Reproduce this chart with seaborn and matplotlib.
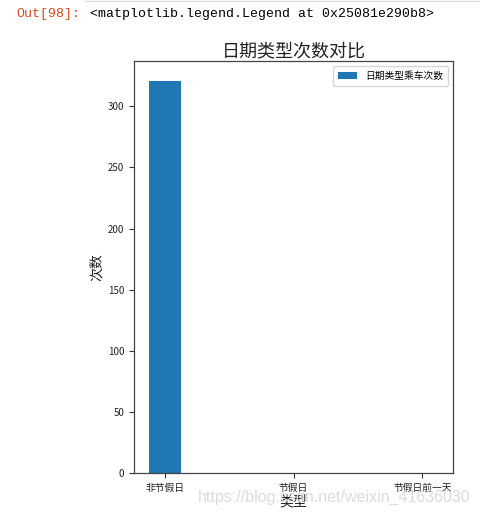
import matplotlib
matplotlib.use("Agg")
import matplotlib.pyplot as plt
import seaborn as sns
import pandas as pd
from matplotlib.lines import Line2D

categories = ["非节假日", "节假日", "节假日前一天"]
counts = [321, 0, 0]
series_label = "日期类型乘车次数"
title = "日期类型次数对比"
xlabel = "类型"
ylabel = "次数"

plt.rcParams['font.family'] = ['Noto Sans CJK SC', 'DejaVu Sans']

df = pd.DataFrame({"类型": categories, "次数": counts})

fig = plt.figure(figsize=(4.81, 5.16), dpi=100)
ax = fig.add_axes([134/481, 1-473/516, 319/481, 412/516])

sns.barplot(data=df, x="类型", y="次数", ax=ax, color="#1f77b4",
            width=0.25, saturation=1, label=series_label, order=categories)

n = len(categories)
ax.set_xlim(-0.2375, n - 1 + 0.2375)
ax.set_ylim(0, max(counts) * 1.05)
ax.set_yticks(range(0, 301, 50))
ax.tick_params(labelsize=7, length=3.5, width=0.8, color="#333333", labelcolor="#222222")
for s in ax.spines.values():
    s.set_linewidth(0.9)
    s.set_color("#444444")
ax.set_title(title, fontsize=13, pad=2, color="#222222")
ax.set_xlabel(xlabel, fontsize=10, labelpad=1, color="#222222")
ax.set_ylabel(ylabel, fontsize=10, labelpad=3, color="#222222")
leg = ax.legend(loc="upper right", fontsize=7, frameon=True, fancybox=True,
                handlelength=2, borderpad=0.5)

fig.text(16/481, 1-14/516, "Out[98]:", family="Liberation Mono", fontsize=9.5,
         color="#d84a1b", va="center", ha="left")
fig.text(90/481, 1-14/516, "<matplotlib.legend.Legend at 0x25081e290b8>",
         family="Liberation Mono", fontsize=9.5, color="#000000", va="center", ha="left")
fig.text(471/481, 1-497/516, "https://blog.csdn.net/weixin_41636030",
         family="Liberation Sans", fontsize=11.5, color="#d8d8d8", va="center", ha="right",
         alpha=0.9)
fig.add_artist(Line2D([85/481, 1], [1-1/516, 1-1/516], color="#e0e0e0", lw=1,
                      transform=fig.transFigure))

fig.savefig("out.png", dpi=100)
